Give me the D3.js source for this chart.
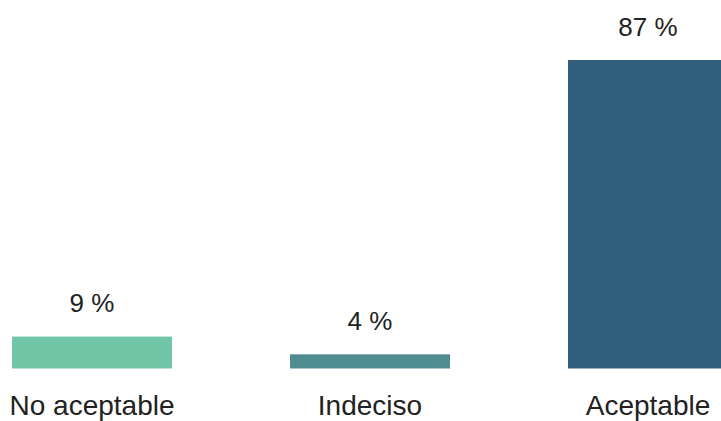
<!DOCTYPE html>
<html><head><meta charset="utf-8">
<script src="https://cdn.jsdelivr.net/npm/d3@7"></script>
<style>html,body{margin:0;padding:0;background:#fff;overflow:hidden}</style>
</head><body>
<svg id="chart" width="721" height="421"></svg>
<script>
const categories = ["No aceptable", "Indeciso", "Aceptable"];
const values = [9, 4, 87];
const valueLabels = ["9 %", "4 %", "87 %"];
const colors = ["#70c6a7", "#4e8c91", "#31607e"];

const svg = d3.select("#chart");
const baseY = 368.5;
const bw = 160;
const xpos = d3.scalePoint().domain(categories).range([12, 568]);
const y = d3.scaleLinear().domain([0, 87]).range([baseY, 60]);

svg.selectAll("rect.bar").data(values).join("rect")
  .attr("class", "bar")
  .attr("x", (d, i) => xpos(categories[i]))
  .attr("width", bw)
  .attr("y", d => y(d))
  .attr("height", d => baseY - y(d))
  .attr("fill", (d, i) => colors[i]);

svg.selectAll("text.val").data(values).join("text")
  .attr("class", "val")
  .attr("x", (d, i) => xpos(categories[i]) + bw / 2)
  .attr("y", d => y(d) - 24.5)
  .attr("text-anchor", "middle")
  .attr("font-family", "Liberation Sans, Arial, sans-serif")
  .attr("font-size", 26)
  .attr("fill", "#222")
  .text((d, i) => valueLabels[i]);

svg.selectAll("text.cat").data(categories).join("text")
  .attr("class", "cat")
  .attr("x", d => xpos(d) + bw / 2)
  .attr("y", 415)
  .attr("text-anchor", "middle")
  .attr("font-family", "Liberation Sans, Arial, sans-serif")
  .attr("font-size", 28)
  .attr("fill", "#222")
  .text(d => d);
</script>
</body></html>
